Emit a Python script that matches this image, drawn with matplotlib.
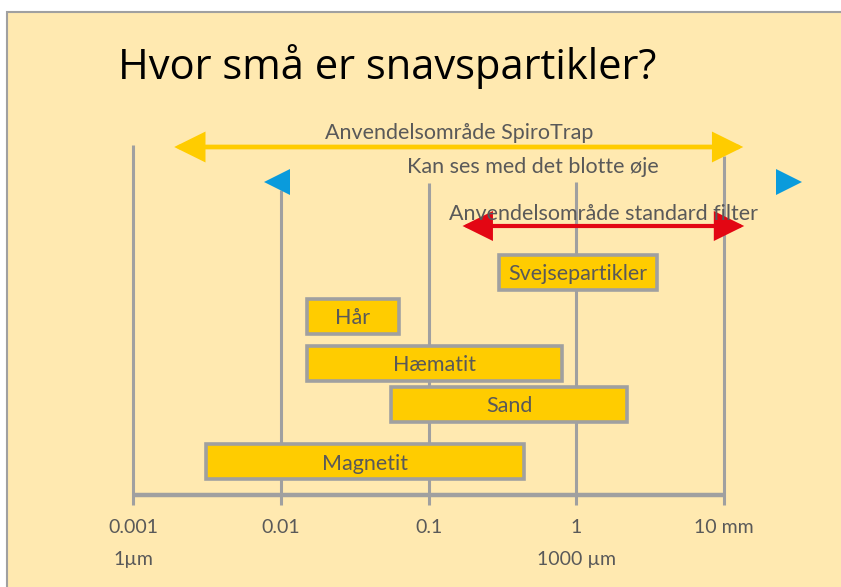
import matplotlib
matplotlib.use("Agg")
import matplotlib.pyplot as plt
from matplotlib.patches import Rectangle, FancyArrowPatch

plt.rcParams['font.family'] = ['Lato', 'DejaVu Sans']

# particle size ranges in mm
particles = ["Svejsepartikler", "Hår", "Hæmatit", "Sand", "Magnetit"]
size_min = [0.3, 0.015, 0.015, 0.056, 0.0031]
size_max = [3.5, 0.063, 0.8, 2.2, 0.44]

# ranges shown as arrows (mm)
spirotrap_range = [0.0019, 13.5]
filter_range = [0.17, 13.7]
eye_marks = [0.0095, 27.5]

ticks = [0.001, 0.01, 0.1, 1, 10]
tick_labels = ["0.001", "0.01", "0.1", "1", "10 mm"]
um_ticks = [0.001, 1]
um_labels = ["1µm", "1000 µm"]

title = "Hvor små er snavspartikler?"
spirotrap_label = "Anvendelsområde SpiroTrap"
filter_label = "Anvendelsområde standard filter"
eye_label = "Kan ses med det blotte øje"

bg = "#FFE9B0"
gray = "#A0A0A0"
txt = "#595959"
bar_color = "#FFCC00"

fig = plt.figure(figsize=(8.41, 5.87), dpi=100)
fig.patch.set_facecolor("white")
fig.add_artist(Rectangle((7 / 841, -0.1), 1.2, (587 - 12) / 587 + 0.1, transform=fig.transFigure,
                         facecolor=bg, edgecolor=gray, lw=1.5, zorder=0))

ax = fig.add_axes([0, 0, 1, 1])
ax.set_xscale("log")
px = 147.75  # pixels per decade
ax.set_xlim(10 ** (-3 - 133 / px), 10 ** (-3 + (841 - 133) / px))
ax.set_ylim(587, 0)
ax.set_axis_off()

# vertical grid lines and axis
tops = [145, 190, 183, 182, 156]
ax.vlines(ticks, tops, 505, color=gray, lw=2.2, zorder=1)
ax.plot([ticks[0], ticks[-1]], [495, 495], color=gray, lw=3.2, solid_capstyle="butt", zorder=1)

for t, lab in zip(ticks, tick_labels):
    ax.text(t, 533, lab, ha="center", va="baseline", fontsize=14, color=txt)
for t, lab in zip(um_ticks, um_labels):
    ax.text(t, 565, lab, ha="center", va="baseline", fontsize=14, color=txt)

# particle bars
rows = [272, 316, 363, 404.5, 461.5]
for name, lo, hi, y in zip(particles, size_min, size_max, rows):
    ax.barh(y, hi - lo, left=lo, height=35, color=bar_color, edgecolor=gray, lw=2.6, zorder=3)
    ax.text((lo * hi) ** 0.5, y + 8, name, ha="center", va="baseline", fontsize=15.5, color=txt, zorder=4)

# arrows
def range_arrow(rng, y, color, lw):
    a = FancyArrowPatch((rng[0], y), (rng[1], y), arrowstyle="<|-|>,head_length=0.85,head_width=0.42",
                        mutation_scale=20, color=color, lw=lw, shrinkA=0, shrinkB=0,
                        joinstyle="miter", zorder=2)
    ax.add_patch(a)

range_arrow(spirotrap_range, 147, "#FFCC00", 3.4)
range_arrow(filter_range, 226, "#E30613", 3.0)
ax.text((spirotrap_range[0] * spirotrap_range[1]) ** 0.5, 139, spirotrap_label,
        ha="center", va="baseline", fontsize=15.5, color=txt)
ax.text((filter_range[0] * filter_range[1]) ** 0.5, 220, filter_label,
        ha="center", va="baseline", fontsize=15.5, color=txt, zorder=2)

ax.plot(eye_marks[0], 182, marker="<", ms=18.5, color="#0A9BDC", mew=0, zorder=2)
ax.plot(eye_marks[1], 182, marker=">", ms=18.5, color="#0A9BDC", mew=0, zorder=2)
ax.text((eye_marks[0] * eye_marks[1]) ** 0.5, 173, eye_label,
        ha="center", va="baseline", fontsize=15.5, color=txt)

fig.text(118 / 841, 1 - 79 / 587, title, ha="left", va="baseline", fontsize=30, color="black",
         family=["Open Sans", "DejaVu Sans"])

fig.savefig("out.png", dpi=100)
